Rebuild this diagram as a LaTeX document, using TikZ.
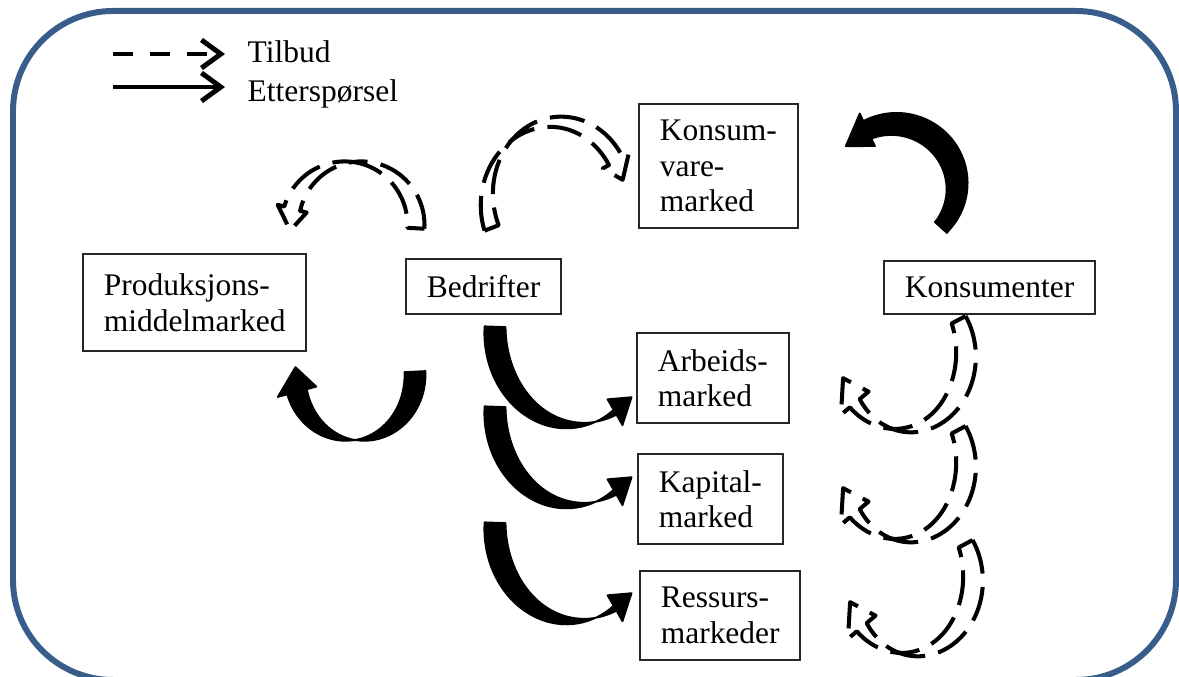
\documentclass[tikz,border=0pt]{standalone}
\usepackage{fontspec}
\setmainfont{Liberation Serif}
\usetikzlibrary{arrows.meta}
\definecolor{framecol}{RGB}{56,93,138}

\newcommand{\bandarrow}[9]{%
	\begin{scope}[shift={#2}]
		\draw[#1] plot[domain=#5:#6, samples=50, variable=\t] ({(#3+(#9)/2)*cos(\t)},{(#4+(#9)/2)*sin(\t)})
			-- ({(#3+#8/2)*cos(#6)},{(#4+#8/2)*sin(#6)})
			-- ({#3*cos(#7)},{#4*sin(#7)})
			-- ({(#3-#8/2)*cos(#6)},{(#4-#8/2)*sin(#6)})
			-- plot[domain=#6:#5, samples=50, variable=\t] ({(#3-(#9)/2)*cos(\t)},{(#4-(#9)/2)*sin(\t)})
			-- cycle;
	\end{scope}}

\begin{document}
\begin{tikzpicture}[x=0.01cm, y=-0.01cm,
	mkt/.style = {draw=black!85, line width=0.6pt, align=left, anchor=north west,
		inner xsep=5.9pt, inner ysep=4.6pt, font=\fontsize{8.95pt}{10.1pt}\selectfont},
	lbl/.style = {anchor=base west, inner sep=0pt, font=\fontsize{8.95pt}{10.1pt}\selectfont},
	supply/.style = {draw=black, line width=1.15pt, dash pattern=on 10pt off 3.8pt, fill=white, line join=round},
	demand/.style = {draw=black, fill=black, line width=0.5pt, line join=round},
	legend/.style = {line width=1.4pt, -{Straight Barb[length=5.5pt, width=8pt]}}]
	\useasboundingbox (0,0) rectangle (1179,677);
	\draw[framecol, line width=1.7pt, rounded corners=1cm] (13,11) rectangle (1176,680);

	\coordinate (tilbudA) at (113,54);
	\coordinate (tilbudB) at (225,54);
	\coordinate (etterA) at (113,87);
	\coordinate (etterB) at (225,87);
	\draw[legend, dash pattern=on 5.7pt off 4.8pt] (tilbudA) -- (tilbudB);
	\draw[legend] (etterA) -- (etterB);
	\node[lbl] (tilbud) at (247,63) {Tilbud};
	\node[lbl] (etter) at (247,102) {Etterspørsel};

	\node[mkt] (konsumvare) at (638,103) {Konsum-\\vare-\\marked};
	\node[mkt, minimum height=0.97cm] (produksjon) at (82,253) {Produksjons-\\middelmarked};
	\node[mkt] (bedrifter) at (405,258) {Bedrifter};
	\node[mkt] (konsumenter) at (883,260) {Konsumenter};
	\node[mkt] (arbeid) at (636,332) {Arbeids-\\marked};
	\node[mkt] (kapital) at (637,453) {Kapital-\\marked};
	\node[mkt] (ressurs) at (639,570) {Ressurs-\\markeder};

	\bandarrow{demand}{(355,375)}{60}{65}{-3}{165}{187}{40}{21*abs(sin(\t-90))}
	\bandarrow{demand}{(894,186)}{63}{62}{42}{-115}{-140}{36}{16+8*abs(sin(\t-40))}
	\foreach \dy in {0,80,196}{
		\bandarrow{demand}{(575,330+\dy)}{80}{95}{182}{60}{45}{30}{22*abs(sin(\t-75))}
	}

	\bandarrow{supply}{(353,225)}{63}{63}{3}{-165}{-185}{30}{17*abs(sin(\t+90))}
	\bandarrow{supply}{(556,200)}{69}{78}{159}{330}{345}{30}{16*abs(sin(\t-230))}
	\foreach \cx/\cy in {903/355, 903/465, 910/579}{
		\bandarrow{supply}{(\cx,\cy)}{63}{75}{-28}{140}{162}{36}{20*abs(sin(\t-100))}
	}
\end{tikzpicture}
\end{document}
